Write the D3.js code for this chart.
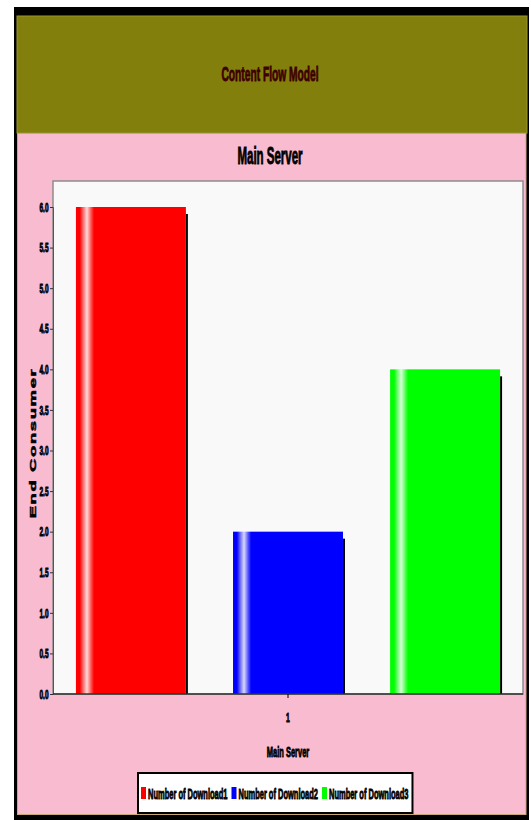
<!DOCTYPE html>
<html><head><meta charset="utf-8">
<script src="https://cdn.jsdelivr.net/npm/d3@7"></script>
<style>
html,body{margin:0;padding:0;background:#fff;}
svg{display:block;}
text{font-family:"Liberation Sans",Arial,Helvetica,sans-serif;font-weight:bold;stroke-width:0.9px;}
</style></head>
<body>
<script>
// ---- data ----
const categories = ["1"];
const series = ["Number of Download1", "Number of Download2", "Number of Download3"];
const values = [6, 2, 4];
const colors = ["#ff0000", "#0000ff", "#00ff00"];
const yTickValues = [0, 0.5, 1, 1.5, 2, 2.5, 3, 3.5, 4, 4.5, 5, 5.5, 6];
const chartTitle = "Content Flow Model";
const plotTitle = "Main Server";
const xTitle = "Main Server";
const yTitle = "End Consumer";

const W = 531, H = 820, SX = 0.5;
const svg = d3.select("body").append("svg").attr("width", W).attr("height", H);
const defs = svg.append("defs");

// frame
svg.append("rect").attr("x", 14).attr("y", 7).attr("width", 515).attr("height", 813).attr("fill", "#000");
svg.append("rect").attr("x", 17).attr("y", 16).attr("width", 510).attr("height", 117).attr("fill", "#827f0d").attr("stroke", "#9a9530").attr("stroke-width", 1);
svg.append("rect").attr("x", 17.5).attr("y", 133.5).attr("width", 508.5).attr("height", 681).attr("fill", "#f8bbd0").attr("stroke", "#c9a877").attr("stroke-width", 1);

function sText(g, str, x, y, size, anchor, color) {
  const c = color || "#000";
  return g.append("text").attr("transform", `translate(${x},${y}) scale(${SX},1)`)
    .attr("text-anchor", anchor).attr("font-size", size).attr("fill", c).attr("stroke", c).text(str);
}
sText(svg, chartTitle, 270, 81, 20.5, "middle", "#3d0000");
sText(svg, plotTitle, 270, 164, 23, "middle");

// plot area
const m = {l: 53, r: 523, t: 181, b: 694};
svg.append("rect").attr("x", m.l).attr("y", m.t).attr("width", m.r - m.l).attr("height", m.b - m.t)
  .attr("fill", "#f9f9f9").attr("stroke", "#8d8d8d").attr("stroke-width", 1.5);

const y = d3.scaleLinear().domain([0, 6]).range([m.b, 207]);
const x0 = d3.scaleBand().domain(categories).range([m.l, m.r]).padding(0);
const x1 = d3.scaleBand().domain(series).range([0, x0.bandwidth()]).paddingInner(0.3).paddingOuter(0.146);

// gradients
series.forEach((s, i) => {
  const lg = defs.append("linearGradient").attr("id", "g" + i).attr("x1", 0).attr("x2", 1).attr("y1", 0).attr("y2", 0);
  const light = d3.interpolateRgb(colors[i], "#ffffff");
  [[0, colors[i]], [0.035, colors[i]], [0.06, light(0.35)], [0.1, light(0.85)], [0.14, light(0.3)], [0.165, colors[i]], [1, colors[i]]]
    .forEach(([o, col]) => lg.append("stop").attr("offset", o).attr("stop-color", col));
});

const gb = svg.append("g");
categories.forEach(cat => {
  series.forEach((s, i) => {
    const bx = x0(cat) + x1(s), bw = x1.bandwidth();
    const by = y(values[i]);
    gb.append("rect").attr("x", bx + bw).attr("y", by + 7).attr("width", 2).attr("height", m.b - by - 7).attr("fill", "#000");
    gb.append("rect").attr("x", bx).attr("y", by).attr("width", bw).attr("height", m.b - by).attr("fill", `url(#g${i})`);
  });
});

// y axis
const ya = svg.append("g").attr("transform", `translate(${m.l},0)`)
  .call(d3.axisLeft(y).tickValues(yTickValues).tickFormat(d3.format(".1f")).tickSize(3));
ya.select(".domain").attr("stroke", "#555").attr("stroke-width", 1);
ya.selectAll(".tick line").attr("stroke", "#333");
ya.selectAll(".tick text").attr("x", -9).attr("transform", `scale(${SX},1)`)
  .attr("font-size", 13).attr("font-family", '"Liberation Sans",Arial,sans-serif').attr("font-weight", "bold")
  .attr("fill", "#000").attr("stroke", "#000");

// x axis
const xa = svg.append("g").attr("transform", `translate(0,${m.b})`)
  .call(d3.axisBottom(x0).tickSize(4).tickPadding(14));
xa.select(".domain").attr("stroke", "#333").attr("stroke-width", 1.5).attr("d", `M${m.l},0H${m.r}`);
xa.selectAll(".tick text").attr("transform", `scale(${SX},1)`)
  .attr("font-size", 13.5).attr("font-family", '"Liberation Sans",Arial,sans-serif').attr("font-weight", "bold")
  .attr("fill", "#000").attr("stroke", "#000");

// axis titles
sText(svg, xTitle, 288, 757, 15, "middle");
svg.append("text").attr("transform", `translate(36,443) scale(${SX},1) rotate(-90)`)
  .attr("text-anchor", "middle").attr("font-size", 18.5).attr("letter-spacing", "1.6px")
  .attr("fill", "#000").attr("stroke", "#000").text(yTitle);

// legend
const lg = svg.append("g");
const box = lg.append("rect").attr("x", 138).attr("y", 773).attr("width", 271).attr("height", 40)
  .attr("fill", "#fff").attr("stroke", "#000").attr("stroke-width", 2);
let lx = 141;
series.forEach((s, i) => {
  lg.append("rect").attr("x", lx).attr("y", 787).attr("width", 5).attr("height", 12).attr("fill", colors[i]);
  const t = sText(lg, s, lx + 7, 799, 15, "start");
  lx += 7 + t.node().getComputedTextLength() * SX + 4;
});
box.attr("width", lx - 138);
</script>
</body></html>
